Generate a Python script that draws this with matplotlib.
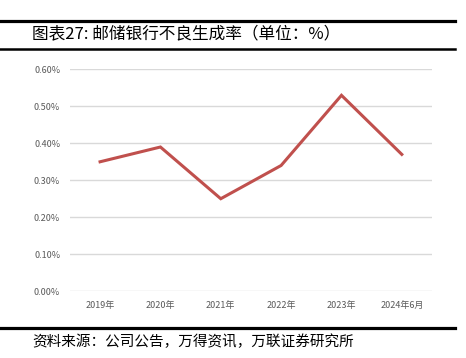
import matplotlib.pyplot as plt
from matplotlib.lines import Line2D
from matplotlib.ticker import FuncFormatter

plt.rcParams['font.family'] = ['Noto Sans CJK SC', 'DejaVu Sans']

years = ['2019年', '2020年', '2021年', '2022年', '2023年', '2024年6月']
npl_rate = [0.35, 0.39, 0.25, 0.34, 0.53, 0.37]
yticks = [0.0, 0.1, 0.2, 0.3, 0.4, 0.5, 0.6]

fig = plt.figure(figsize=(4.66, 3.58), dpi=100)
ax = fig.add_axes([0.150, 0.187, 0.777, 0.619])

x = list(range(len(years)))
ax.plot(x, npl_rate, color='#C0504D', lw=2.2, solid_joinstyle='miter')

ax.set_xlim(-0.5, len(years) - 0.5)
ax.set_ylim(0, 0.6)
ax.set_yticks(yticks)
ax.yaxis.set_major_formatter(FuncFormatter(lambda v, p: '%.2f%%' % v))
ax.set_xticks(x)
ax.set_xticklabels(years)
ax.grid(axis='y', color='#D9D9D9', lw=1)
ax.set_axisbelow(True)
for s in ax.spines.values():
    s.set_visible(False)
ax.tick_params(axis='both', length=0, labelsize=6.5, labelcolor='#595959')
ax.tick_params(axis='y', pad=7)
ax.tick_params(axis='x', pad=7)

# header / footer rules
fig.add_artist(Line2D([0, 0.976], [0.941, 0.941], color='black', lw=2.3))
fig.add_artist(Line2D([0, 0.976], [0.863, 0.863], color='black', lw=1.8))
fig.add_artist(Line2D([0, 0.976], [0.084, 0.084], color='black', lw=2.3))

fig.text(0.069, 0.902, '图表27: 邮储银行不良生成率（单位：%）', fontsize=12, va='center', ha='left')
fig.text(0.069, 0.045, '资料来源：公司公告，万得资讯，万联证券研究所', fontsize=10.5,
         va='center', ha='left', style='italic')

fig.savefig('out.png', dpi=100)
